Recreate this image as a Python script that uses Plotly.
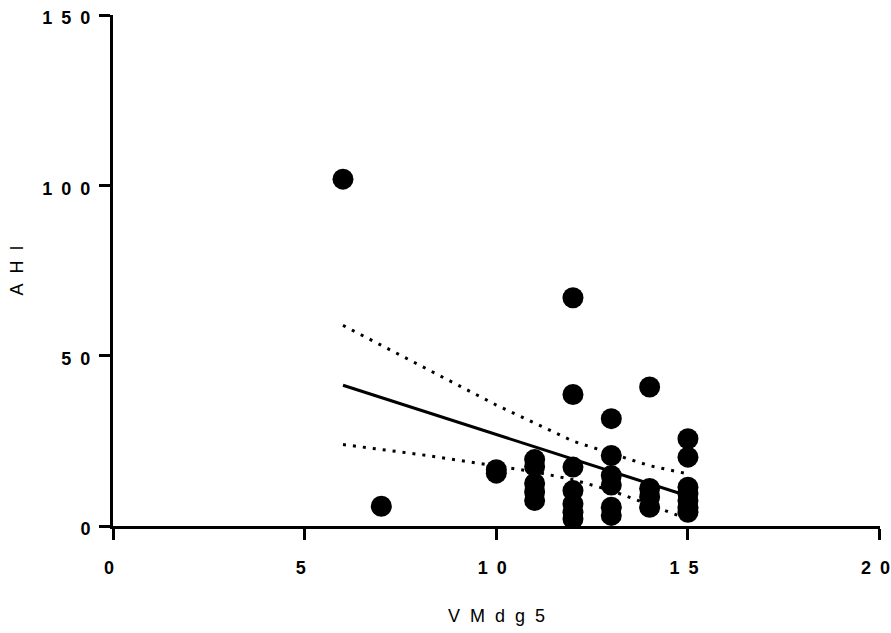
import plotly.graph_objects as go

# Data points (VMdg5 -> list of AHI values)
pts = {
    6: [101.8],
    7: [5.8],
    10: [16.5, 15.5],
    11: [19.5, 17.5, 12.5, 10.0, 7.5],
    12: [67.0, 38.6, 17.3, 10.4, 6.5, 4.0, 2.1],
    13: [31.5, 20.7, 14.8, 12.0, 5.5, 3.1],
    14: [40.8, 11.0, 8.5, 5.5],
    15: [25.6, 20.2, 11.4, 9.5, 7.5, 5.5, 4.0],
}
vm_x = [k for k, v in pts.items() for _ in v]
ahi_y = [y for v in pts.values() for y in v]

# Regression line and 95% confidence band
fit_x = [6, 15]
fit_y = [41.3, 8.8]
upper_x = [6, 8, 10, 12, 13, 14, 15]
upper_y = [58.9, 47.2, 35.5, 24.9, 21.3, 17.7, 15.3]
lower_x = [6, 8, 10, 11, 12, 13, 14, 15]
lower_y = [23.9, 21.0, 17.6, 15.9, 13.6, 10.4, 6.2, 2.0]

SP = "\u2002"
x_ticks = [0, 5, 10, 15, 20]
x_ticktext = [SP.join(str(v)) for v in x_ticks]
y_ticks = [0, 50, 100, 150]
y_ticktext = [SP.join(str(v)) for v in y_ticks]
NB = "\u00a0\u00a0"
x_title = NB.join("VMdg5")
y_title = NB.join("AHI")

fig = go.Figure()
fig.add_trace(go.Scatter(x=upper_x, y=upper_y, mode="lines",
                         line=dict(color="black", width=3, dash="3px,7px"),
                         hoverinfo="skip"))
fig.add_trace(go.Scatter(x=lower_x, y=lower_y, mode="lines",
                         line=dict(color="black", width=3, dash="3px,7px"),
                         hoverinfo="skip"))
fig.add_trace(go.Scatter(x=fit_x, y=fit_y, mode="lines",
                         line=dict(color="black", width=3)))
fig.add_trace(go.Scatter(x=vm_x, y=ahi_y, mode="markers",
                         marker=dict(color="black", size=21, line=dict(width=0))))

tickfont = dict(family="Liberation Sans, Arial, sans-serif", size=18, color="black", weight="bold")
titlefont = dict(family="Liberation Sans, Arial, sans-serif", size=18, color="black")

fig.update_layout(
    width=891, height=633,
    margin=dict(l=113, r=11, t=15, b=107),
    paper_bgcolor="white", plot_bgcolor="white",
    showlegend=False,
    xaxis=dict(range=[0, 20.01], tickvals=x_ticks, ticktext=x_ticktext, automargin=False,
               showgrid=False, zeroline=False, showline=True, linecolor="black", linewidth=3,
               ticks="outside", ticklen=11, tickwidth=3, tickcolor="black",
               tickfont=tickfont, ticklabelstandoff=12, ticklabelshift=-4,
               ticklabeloverflow="allow",
               title=dict(text=x_title, font=titlefont, standoff=33)),
    yaxis=dict(range=[0, 150], tickvals=y_ticks, ticktext=y_ticktext, automargin=False,
               showgrid=False, zeroline=False, showline=True, linecolor="black", linewidth=3,
               ticks="outside", ticklen=11, tickwidth=3, tickcolor="black",
               tickfont=tickfont, ticklabelstandoff=5, ticklabelshift=3,
               ticklabeloverflow="allow",
               title=dict(text=y_title, font=titlefont, standoff=15)),
)

# remove the default 8px page margin so the 891x633 figure fills the window
fig.write_html("out.html", config={"displayModeBar": False},
               post_script="document.body.style.margin='0px';")
